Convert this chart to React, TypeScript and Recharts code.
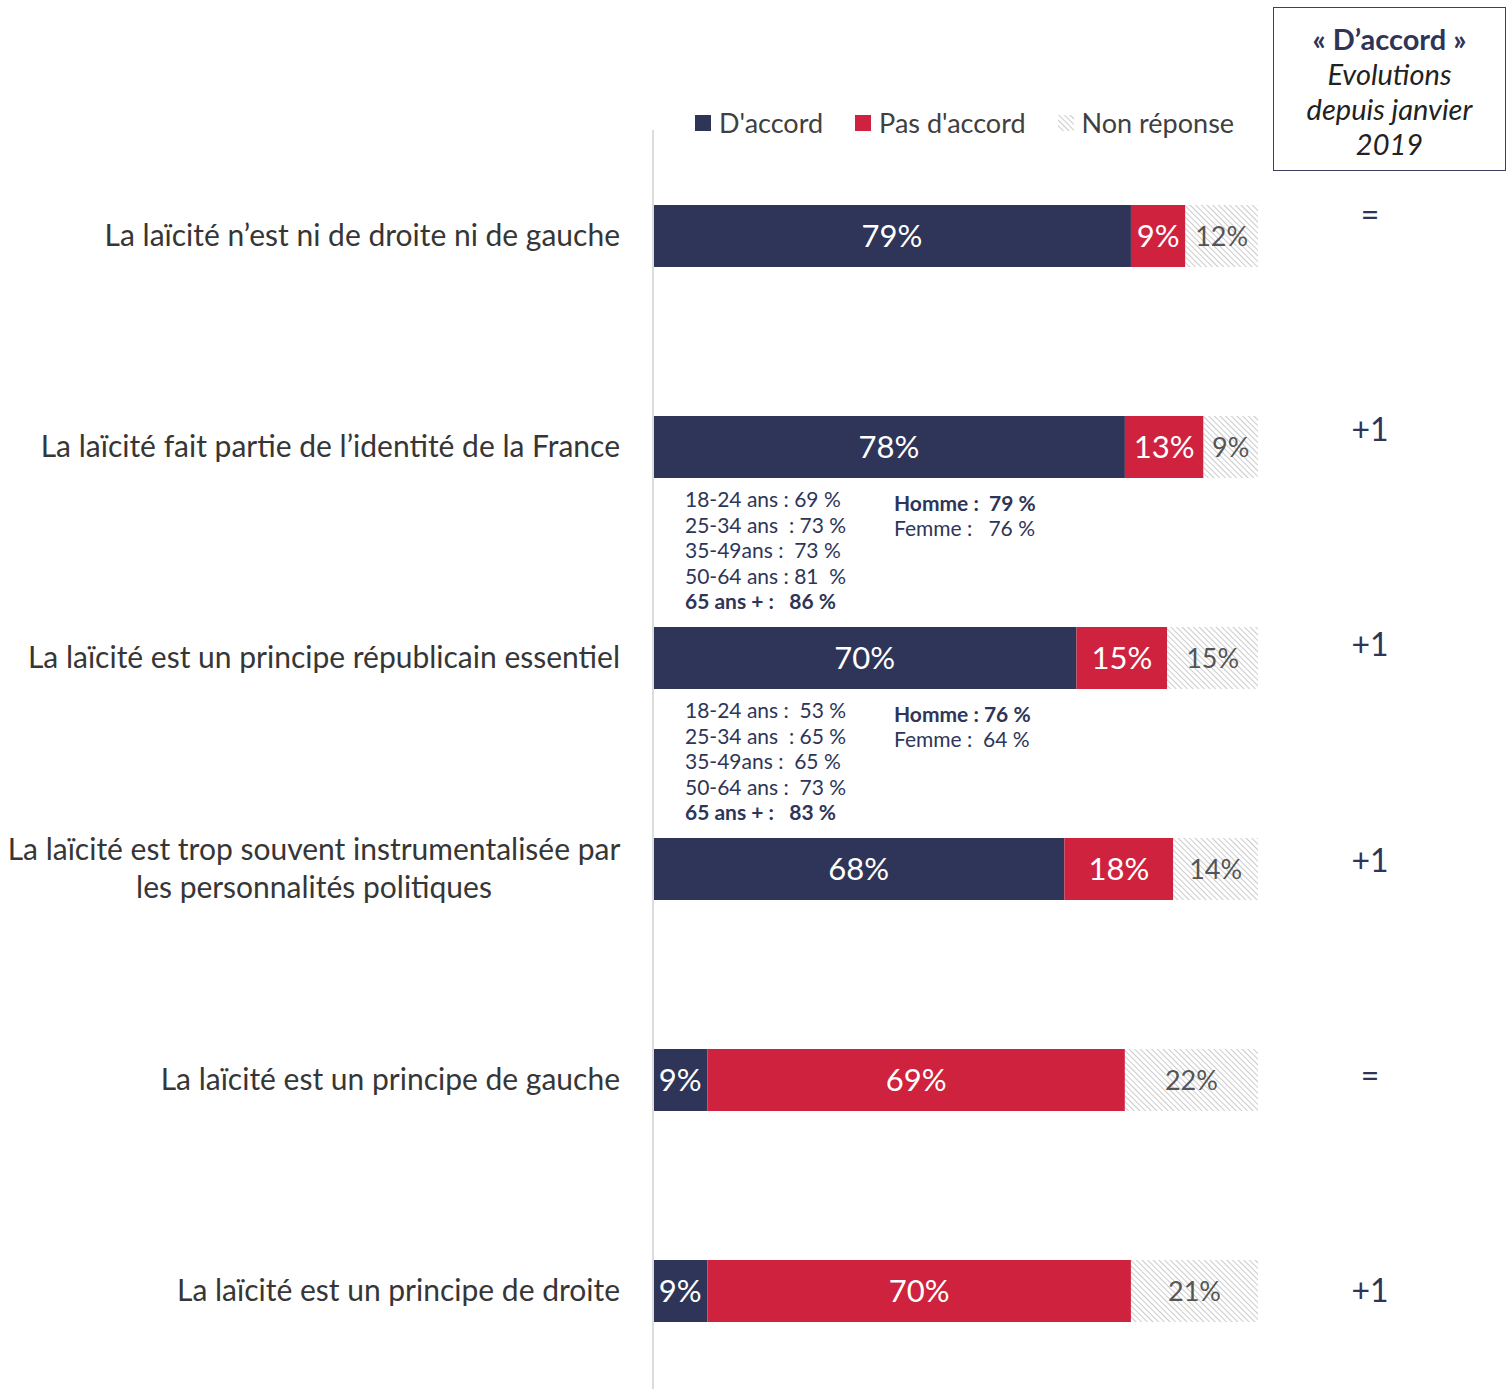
import React from 'react';
import { BarChart, Bar, XAxis, YAxis, LabelList } from 'recharts';

const CATEGORIES = [
    'La laïcité n’est ni de droite ni de gauche',
    'La laïcité fait partie de l’identité de la France',
    'La laïcité est un principe républicain essentiel',
    'La laïcité est trop souvent instrumentalisée par\nles personnalités politiques',
    'La laïcité est un principe de gauche',
    'La laïcité est un principe de droite',
];
const ACCORD = [79, 78, 70, 68, 9, 9];
const PAS_ACCORD = [9, 13, 15, 18, 69, 70];
const NON_REPONSE = [12, 9, 15, 14, 22, 21];
const EVOLUTION = ['=', '+1', '+1', '+1', '=', '+1'];

// sous-détails affichés sous certaines barres (âge / sexe), la ligne en gras est marquée
const AGE_DETAILS: (string[] | null)[] = [
    null,
    ['18-24 ans : 69 %', '25-34 ans  : 73 %', '35-49ans :  73 %', '50-64 ans : 81  %', '65 ans + :   86 %'],
    ['18-24 ans :  53 %', '25-34 ans  : 65 %', '35-49ans :  65 %', '50-64 ans :  73 %', '65 ans + :   83 %'],
    null,
    null,
    null,
];
const AGE_BOLD = [4];
const GENDER_DETAILS: (string[] | null)[] = [
    null,
    ['Homme :  79 %', 'Femme :   76 %'],
    ['Homme : 76 %', 'Femme :  64 %'],
    null,
    null,
    null,
];
const GENDER_BOLD = [0];

const NAVY = '#2E3558';
const RED = '#CF223E';
const FONT = 'Lato, "Open Sans", sans-serif';

const data = CATEGORIES.map((name, i) => ({
    name,
    accord: ACCORD[i],
    pas: PAS_ACCORD[i],
    nr: NON_REPONSE[i],
    evo: EVOLUTION[i],
}));

function CategoryTick({ y, payload }: any) {
    const lines = String(payload.value).split('\n');
    if (lines.length === 1) {
        return (
            <text x={620} y={y} dy={10} textAnchor="end" fontSize={30} fill="#363636" fontFamily={FONT}>
                {lines[0]}
            </text>
        );
    }
    return (
        <text textAnchor="middle" fontSize={30} fill="#363636" fontFamily={FONT}>
            <tspan x={314} y={y - 19} dy={10}>{lines[0]}</tspan>
            <tspan x={314} y={y + 19} dy={10}>{lines[1]}</tspan>
        </text>
    );
}

function EvolutionLabel(props: any) {
    const { x, y, width, height, value, index } = props;
    const cy = y + height / 2 - 21 + index * 4.2;
    return (
        <text x={x + width + 112} y={cy} dy={11} textAnchor="middle" fontSize={32} fill={NAVY} fontFamily={FONT}>
            {value}
        </text>
    );
}

function DetailsLabel(props: any) {
    const { x, y, height, index } = props;
    const ages = AGE_DETAILS[index];
    const genders = GENDER_DETAILS[index];
    if (!ages) return null;
    const bottom = y + height;
    return (
        <g fontFamily={FONT} fontSize={21} fill={NAVY}>
            {ages.map((t, k) => (
                <text key={'a' + k} x={x + 32} y={bottom + 29 + k * 25.5} fontWeight={AGE_BOLD.includes(k) ? 700 : 400} style={{ whiteSpace: 'pre' }}>
                    {t}
                </text>
            ))}
            {genders &&
                genders.map((t, k) => (
                    <text key={'g' + k} x={x + 241} y={bottom + 33 + k * 25} fontWeight={GENDER_BOLD.includes(k) ? 700 : 400} style={{ whiteSpace: 'pre' }}>
                        {t}
                    </text>
                ))}
        </g>
    );
}

const pct = (v: any) => `${v}%`;

function LegendItem({ kind, label }: { kind: 'accord' | 'pas' | 'nr'; label: string }) {
    const swatch =
        kind === 'nr' ? (
            <svg width={16} height={16} style={{ marginRight: 8 }}>
                <rect width={16} height={16} fill="url(#hatchLegend)" />
            </svg>
        ) : (
            <span style={{ display: 'inline-block', width: 16, height: 16, background: kind === 'accord' ? NAVY : RED, marginRight: 8 }} />
        );
    return (
        <span style={{ display: 'inline-flex', alignItems: 'center', marginRight: 32 }}>
            {swatch}
            <span>{label}</span>
        </span>
    );
}

export default function App() {
    return (
        <div style={{ position: 'absolute', left: 0, top: 0, width: 1508, height: 1389, overflow: 'hidden', background: '#fff', fontFamily: FONT }}>
            <svg width={0} height={0} style={{ position: 'absolute' }}>
                <defs>
                    <pattern id="hatchLegend" width={4} height={4} patternUnits="userSpaceOnUse" patternTransform="rotate(-45)">
                        <rect width={4} height={4} fill="#fff" />
                        <line x1={0} y1={0} x2={0} y2={4} stroke="#b5b5b5" strokeWidth={1.4} />
                    </pattern>
                </defs>
            </svg>
            <BarChart
                width={1508}
                height={1396}
                data={data}
                layout="vertical"
                margin={{ top: 130, right: 250, left: 0, bottom: 0 }}
            >
                <defs>
                    <pattern id="hatch" width={4} height={4} patternUnits="userSpaceOnUse" patternTransform="rotate(-45)">
                        <rect width={4} height={4} fill="#fff" />
                        <line x1={0} y1={0} x2={0} y2={4} stroke="#b5b5b5" strokeWidth={1.4} />
                    </pattern>
                </defs>
                <XAxis type="number" domain={[0, 100]} hide />
                <YAxis
                    type="category"
                    dataKey="name"
                    width={653}
                    axisLine={{ stroke: '#dcdcdc', strokeWidth: 2 }}
                    tickLine={false}
                    tick={<CategoryTick />}
                    interval={0}
                />
                <Bar dataKey="accord" stackId="s" fill={NAVY} barSize={62} isAnimationActive={false}>
                    <LabelList dataKey="accord" position="center" formatter={pct} fill="#fff" fontSize={31} fontFamily={FONT} />
                    <LabelList dataKey="name" content={<DetailsLabel />} />
                </Bar>
                <Bar dataKey="pas" stackId="s" fill={RED} barSize={62} isAnimationActive={false}>
                    <LabelList dataKey="pas" position="center" formatter={pct} fill="#fff" fontSize={31} fontFamily={FONT} />
                </Bar>
                <Bar dataKey="nr" stackId="s" fill="url(#hatch)" barSize={62} isAnimationActive={false}>
                    <LabelList dataKey="nr" position="center" formatter={pct} fill="#555" fontSize={27} fontFamily={FONT} />
                    <LabelList dataKey="evo" content={<EvolutionLabel />} />
                </Bar>
            </BarChart>

            <div style={{ position: 'absolute', left: 695, top: 106, fontSize: 27, color: '#404040', display: 'flex', whiteSpace: 'nowrap' }}>
                <LegendItem kind="accord" label="D'accord" />
                <LegendItem kind="pas" label="Pas d'accord" />
                <LegendItem kind="nr" label="Non réponse" />
            </div>

            <div
                style={{
                    position: 'absolute',
                    left: 1273,
                    top: 7,
                    width: 233,
                    height: 164,
                    border: '1.5px solid #3b4060',
                    textAlign: 'center',
                    fontSize: 29,
                    lineHeight: '35px',
                    paddingTop: 13,
                    boxSizing: 'border-box',
                    color: '#222',
                }}
            >
                <div style={{ fontWeight: 700, color: NAVY }}>« D’accord »</div>
                <div style={{ fontStyle: 'italic' }}>Evolutions</div>
                <div style={{ fontStyle: 'italic' }}>depuis janvier</div>
                <div style={{ fontStyle: 'italic' }}>2019</div>
            </div>
        </div>
    );
}
